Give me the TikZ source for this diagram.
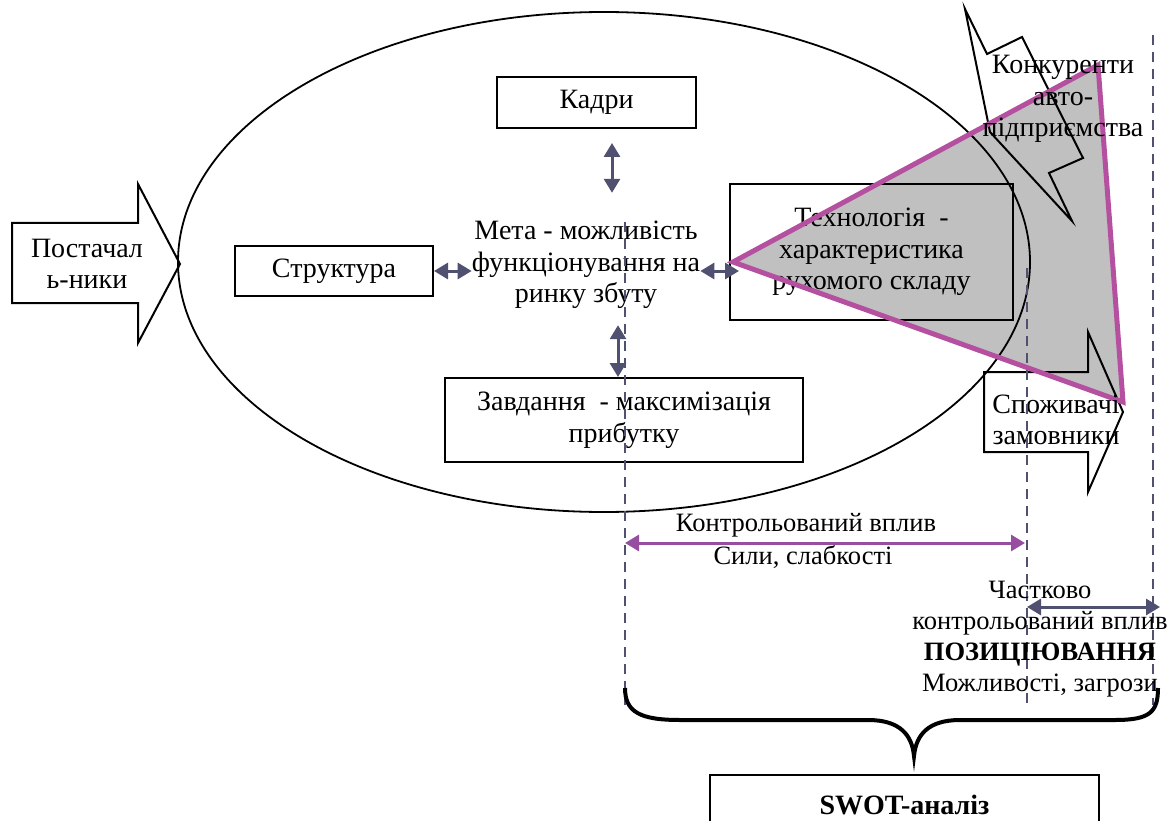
\documentclass[tikz,border=0pt]{standalone}
\usepackage{fontspec}
\setmainfont{Liberation Serif}
\usetikzlibrary{arrows.meta}
\definecolor{slate}{RGB}{80,80,112}
\definecolor{violetline}{RGB}{152,78,160}
\definecolor{magentaedge}{RGB}{181,80,160}
\definecolor{greyfill}{RGB}{192,192,192}

\begin{document}
\begin{tikzpicture}[
    x=1pt, y=-1pt,
    every node/.style={font=\fontsize{28}{31.5}\selectfont, align=center, inner sep=0pt},
    small/.style={font=\fontsize{26.5}{31}\selectfont},
    box/.style={draw, line width=2pt},
    shape line/.style={draw, line width=2pt},
    dbl/.style={{Triangle[length=14pt,width=16pt]}-{Triangle[length=14pt,width=16pt]}, line width=3pt, draw=slate},
    ctrl/.style={{Triangle[length=14pt,width=16pt]}-{Triangle[length=14pt,width=16pt]}, line width=3pt, draw=violetline},
    guide/.style={draw=slate, line width=1.6pt, dash pattern=on 10pt off 7pt},
    brace/.style={draw, line width=4pt}
]
\useasboundingbox (0,0) rectangle (1170,821);
\clip (0,0) rectangle (1170,821);

% market triangle (fill first, edge later)
\fill[greyfill] (733,262) -- (1098,65) -- (1123,402) -- cycle;

% enterprise
\draw[line width=1.8pt] (604,262) ellipse [x radius=426pt, y radius=250pt];

\node[box, minimum width=199pt, minimum height=51pt] (kadry) at (596.5,102.5) {Кадри};
\node[box, minimum width=198pt, minimum height=50pt] (struktura) at (334,271) {Структура};
\node[box, minimum width=358pt, minimum height=84pt] (zavdannya) at (624,420) {Завдання~ - максимізація\\прибутку};
\node[box, minimum width=283pt, minimum height=136pt] (tekhn) at (871.5,252) {Технологія~ -\\характеристика\\рухомого складу};
\node[minimum width=208pt, minimum height=144pt] (meta) at (586,265) {Мета - можливість\\функціонування на\\ринку збуту};

\draw[dbl, shorten <=14pt] ([xshift=15.5pt]kadry.south) -- ([xshift=26pt]meta.north);
\draw[dbl, shorten <=-12pt] ([xshift=32pt]meta.south) -- ([xshift=-6pt]zavdannya.north);
\draw[dbl] (struktura.east) -- (struktura.east -| meta.west);
\draw[dbl, shorten >=-10pt] (struktura.east -| meta.east) -- (struktura.east -| tekhn.west);

% outside actors
\draw[shape line] (12,223) -- (138,223) -- (138,184) -- (180,264) -- (138,343) -- (138,303) -- (12,303) -- cycle;
\node (postach) at (87,264) {Постачал\\ь-ники};

\draw[shape line] (965,9) -- (987,54) -- (1022,37) -- (1083,158) -- (1049,173) -- (1072,221) -- (990,132) -- cycle;
\draw[shape line] (984,372) -- (1088,372) -- (1088,332) -- (1123,412) -- (1088,492) -- (1088,452) -- (984,452) -- cycle;

\draw[line width=5pt, draw=magentaedge] (733,262) -- (1098,65) -- (1123,402) -- cycle;

\node (konkur) at (1063,99) {Конкуренти\\авто-\\підприємства};
\node (spozhyv) at (1056,420) {Споживачі\\замовники};

% zones of influence
\coordinate (top1) at (625,222);  \coordinate (bot1) at (625,705);
\coordinate (top2) at (1027,268); \coordinate (bot2) at (1027,705);
\coordinate (top3) at (1153,35);  \coordinate (bot3) at (1153,705);
\foreach \d in {1,2,3}
    \draw[guide] (top\d) -- (bot\d);

\coordinate (kl) at (625,543);
\coordinate (kr) at (1025,543);
\draw[ctrl] (kl) -- (kr);
\node[small] (kontr) at (806,525) {Контрольований вплив};
\node[small] (syly) at (803,557) {Сили, слабкості};

\coordinate (pl) at (1027,607);
\coordinate (pr) at (1160,607);
\draw[dbl] (pl) -- (pr);
\node[small] (chastk) at (1040,639) {Частково\\контрольований вплив\\\textbf{ПОЗИЦІЮВАННЯ}\\Можливості, загрози};

% SWOT
\draw[brace] (625,688) .. controls (625,712) and (640,720) .. (680,720) -- (868,720)
    .. controls (900,720) and (912,735) .. (914,756)
    .. controls (916,735) and (928,720) .. (960,720) -- (1115,720)
    .. controls (1150,720) and (1158,712) .. (1158,688);
\node[box, minimum width=389pt, minimum height=60pt, font=\fontsize{28}{31.5}\selectfont\bfseries] (swot) at (904.5,805) {SWOT-аналіз};
\end{tikzpicture}
\end{document}
